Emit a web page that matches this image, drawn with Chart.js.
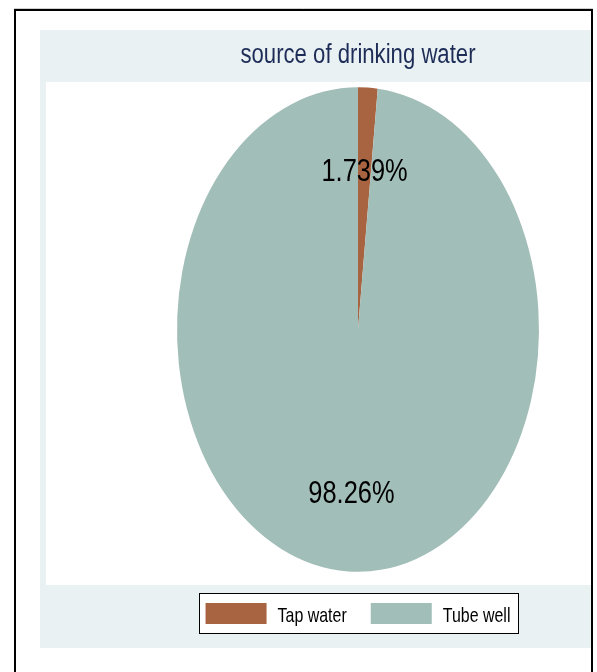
<!DOCTYPE html>
<html>
<head>
<meta charset="utf-8">
<title>source of drinking water</title>
<script src="https://cdn.jsdelivr.net/npm/chart.js@4/dist/chart.umd.min.js"></script>
<style>
  html, body { margin: 0; padding: 0; background: #fff; }
  canvas { display: block; }
</style>
</head>
<body>
<canvas id="c" width="597" height="672"></canvas>
<script>
// Data
const chartTitle = 'source of drinking water';
const categories = ['Tap water', 'Tube well'];
const sharePercent = [1.739, 98.26];
const sliceColors = ['#A86441', '#A2BEB8'];

// Styling
const FONT = "'Liberation Sans', Arial, sans-serif";
const PIE_RADIUS = 181;            // horizontal semi-axis in px
const Y_STRETCH = 242.3 / 181;     // the pie is drawn as an upright ellipse
const LABEL_POS = 2 / 3;           // slice labels sit at 2/3 of the radius

// Condensed text: a sans face squeezed horizontally
function narrowText(ctx, text, x, y, size, squeeze, align, color) {
  ctx.save();
  ctx.font = size + 'px ' + FONT;
  ctx.fillStyle = color;
  ctx.textAlign = align;
  ctx.textBaseline = 'alphabetic';
  ctx.translate(x, y);
  ctx.scale(squeeze, 1);
  ctx.fillText(text, 0, 0);
  ctx.restore();
}
function narrowWidth(ctx, text, size, squeeze) {
  ctx.save();
  ctx.font = size + 'px ' + FONT;
  const w = ctx.measureText(text).width * squeeze;
  ctx.restore();
  return w;
}

// Graph region, plot region, outer frame and title
const backdrop = {
  id: 'backdrop',
  beforeDraw(chart) {
    const ctx = chart.ctx;
    const W = chart.width, H = chart.height;
    ctx.save();
    ctx.fillStyle = '#ffffff';
    ctx.fillRect(0, 0, W, H);
    ctx.fillStyle = '#E9F1F3';
    ctx.fillRect(40, 30, 551, 618);
    ctx.fillStyle = '#ffffff';
    ctx.fillRect(46, 82, 545, 503);

    ctx.strokeStyle = '#d0d0d0';
    ctx.lineWidth = 1;
    ctx.beginPath();
    ctx.moveTo(14, 8.5); ctx.lineTo(593, 8.5);
    ctx.stroke();

    ctx.strokeStyle = '#000000';
    ctx.lineWidth = 2;
    ctx.beginPath();
    ctx.moveTo(15, H); ctx.lineTo(15, 10); ctx.lineTo(592, 10); ctx.lineTo(592, H);
    ctx.stroke();
    ctx.restore();

    const cx = (chart.chartArea.left + chart.chartArea.right) / 2;
    narrowText(ctx, chartTitle, cx, 63, 27, 0.82, 'center', '#1E2D58');
  },
  afterDraw(chart) {
    // framed legend below the plot region
    const ctx = chart.ctx;
    const cx = (chart.chartArea.left + chart.chartArea.right) / 2;
    const boxW = 61, boxH = 21, gap = 11, itemGap = 24, size = 21, squeeze = 0.76;
    const widths = categories.map(t => narrowWidth(ctx, t, size, squeeze));
    const total = widths.reduce((s, w) => s + boxW + gap + w, 0) + itemGap * (categories.length - 1);
    let x = cx - total / 2;
    const boxTop = 603;
    const x0 = Math.round(x - 7) + 0.5;
    const x1 = Math.round(x + total + 8) + 0.5;
    const y0 = boxTop - 10 + 0.5, y1 = boxTop + boxH + 9 + 0.5;
    ctx.save();
    ctx.fillStyle = '#ffffff';
    ctx.fillRect(x0, y0, x1 - x0, y1 - y0);
    ctx.strokeStyle = '#000000';
    ctx.lineWidth = 1;
    ctx.strokeRect(x0, y0, x1 - x0, y1 - y0);
    ctx.restore();
    categories.forEach((label, i) => {
      ctx.fillStyle = sliceColors[i];
      ctx.fillRect(x, boxTop, boxW, boxH);
      narrowText(ctx, label, x + boxW + gap, boxTop + 18.7, size, squeeze, 'left', '#000000');
      x += boxW + gap + widths[i] + itemGap;
    });
  }
};

// Stretch the pie vertically around its centre and print the slice percentages
const ellipsePie = {
  id: 'ellipsePie',
  beforeDatasetsDraw(chart) {
    const meta = chart.getDatasetMeta(0);
    if (!meta.data.length) return;
    const { x, y } = meta.data[0].getProps(['x', 'y'], true);
    const ctx = chart.ctx;
    ctx.save();
    ctx.translate(x, y);
    ctx.scale(1, Y_STRETCH);
    ctx.translate(-x, -y);
  },
  afterDatasetsDraw(chart) {
    const ctx = chart.ctx;
    ctx.restore();
    const meta = chart.getDatasetMeta(0);
    meta.data.forEach((arc, i) => {
      const p = arc.getProps(['x', 'y', 'startAngle', 'endAngle', 'outerRadius'], true);
      const mid = (p.startAngle + p.endAngle) / 2;
      const r = p.outerRadius * LABEL_POS;
      const tx = p.x + Math.cos(mid) * r;
      const ty = p.y + Math.sin(mid) * r * Y_STRETCH;
      narrowText(ctx, sharePercent[i].toPrecision(4) + '%', tx, ty + 12.5, 31, 0.82, 'center', '#000000');
    });
  }
};

new Chart(document.getElementById('c'), {
  type: 'pie',
  data: {
    labels: categories,
    datasets: [{
      data: sharePercent,
      backgroundColor: sliceColors,
      borderWidth: 0,
      radius: PIE_RADIUS
    }]
  },
  options: {
    responsive: false,
    animation: false,
    devicePixelRatio: 1,
    events: [],
    layout: { padding: { left: 119, right: 0, top: 80, bottom: 93 } },
    plugins: {
      title: { display: false },
      legend: { display: false },
      tooltip: { enabled: false }
    }
  },
  plugins: [backdrop, ellipsePie]
});
</script>
</body>
</html>
